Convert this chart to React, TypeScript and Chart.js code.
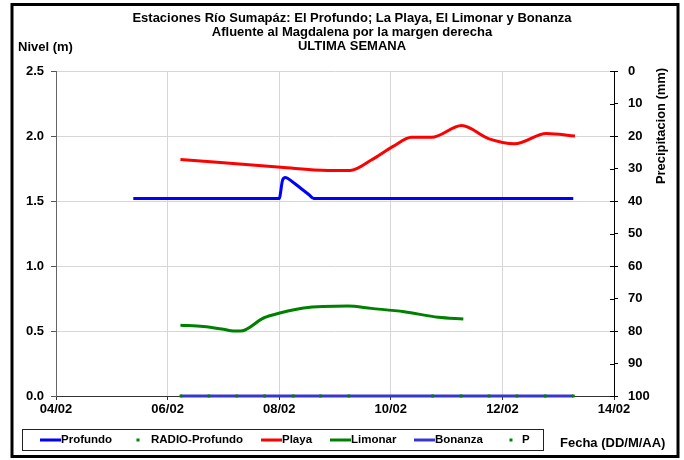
import React, { useEffect, useRef } from "react";
import { Chart, registerables } from "chart.js";

Chart.register(...registerables);

// ---- Data (days of February as decimal numbers) ----
const xTickDays = [4, 6, 8, 10, 12, 14];
const xTickLabels = ["04/02", "06/02", "08/02", "10/02", "12/02", "14/02"];

const titleLines = [
  "Estaciones Río Sumapáz: El Profundo; La Playa, El Limonar y Bonanza",
  "Afluente al Magdalena por la margen derecha",
  "ULTIMA SEMANA",
];

const profundoDays = [5.385, 8.0, 8.06, 8.11, 8.23, 8.38, 8.53, 8.62, 13.27];
const profundoLevel = [1.52, 1.52, 1.66, 1.68, 1.65, 1.6, 1.55, 1.52, 1.52];

const playaDays = [6.23, 6.83, 8.03, 8.87, 9.27, 9.65, 10.04, 10.37, 10.73, 11.27, 11.75, 12.22, 12.79, 13.3];
const playaLevel = [1.82, 1.8, 1.76, 1.735, 1.735, 1.815, 1.92, 1.99, 1.99, 2.08, 1.98, 1.94, 2.02, 2.0];

const limonarDays = [6.23, 6.64, 7.0, 7.18, 7.31, 7.72, 8.03, 8.44, 9.23, 9.65, 10.24, 10.85, 11.3];
const limonarLevel = [0.545, 0.535, 0.513, 0.5, 0.5, 0.6, 0.64, 0.677, 0.692, 0.674, 0.648, 0.605, 0.592];

const bonanzaDays = [6.23, 13.27];
const bonanzaLevel = [0, 0];

const radioDays = [6.24, 6.74, 7.24, 7.74, 8.25, 8.74, 9.25, 10.75, 11.26, 11.76, 12.26, 12.77, 13.27];
const radioValues = [0, 0, 0, 0, 0, 0, 0, 0, 0, 0, 0, 0, 0];

const pDays = [6.24, 6.74, 7.24, 7.74, 8.25, 8.74, 9.25, 10.75, 11.26, 11.76, 12.26, 12.77, 13.27];
const pValues = [0, 0, 0, 0, 0, 0, 0, 0, 0, 0, 0, 0, 0];

const FONT = "'Liberation Sans', Arial, sans-serif";

const pts = (xs: number[], ys: number[]) => xs.map((x, i) => ({ x, y: ys[i] }));

export default function App() {
  const ref = useRef<HTMLCanvasElement | null>(null);

  useEffect(() => {
    const canvas = ref.current;
    if (!canvas) return;

    const legendItems = [
      { marker: 0, text: 61 },
      { marker: 138, text: 151 },
      { marker: 261, text: 282 },
      { marker: 329, text: 351 },
      { marker: 413, text: 435 },
      { marker: 511, text: 522 },
    ];

    const decor = {
      id: "decor",
      beforeDraw(chart: any) {
        const ctx = chart.ctx;
        ctx.save();
        ctx.fillStyle = "#fff";
        ctx.fillRect(0, 0, chart.width, chart.height);
        ctx.restore();
      },
      afterDraw(chart: any) {
        const ctx = chart.ctx;
        ctx.save();
        // right axis inner tick halves
        const y2 = chart.scales.y2;
        ctx.strokeStyle = "#000";
        ctx.lineWidth = 1;
        for (let v = 0; v <= 100; v += 10) {
          const py = Math.round(y2.getPixelForValue(v)) + 0.5;
          ctx.beginPath();
          ctx.moveTo(y2.left - 4, py);
          ctx.lineTo(y2.left, py);
          ctx.stroke();
        }
        // frame
        ctx.strokeStyle = "#000";
        ctx.lineWidth = 3;
        ctx.strokeRect(12, 4.5, 666, 452);

        ctx.fillStyle = "#000";
        ctx.textBaseline = "middle";
        // titles
        ctx.font = `bold 13px ${FONT}`;
        ctx.textAlign = "center";
        const tw = [466, 296, 114];
        const ty = [18, 32, 46];
        titleLines.forEach((t, i) => ctx.fillText(t, 352, ty[i], tw[i]));
        // axis titles
        ctx.textAlign = "left";
        ctx.fillText("Nivel (m)", 18, 47);
        ctx.fillText("Fecha (DD/M/AA)", 560, 443, 113);
        ctx.save();
        ctx.translate(661, 126);
        ctx.rotate(-Math.PI / 2);
        ctx.textAlign = "center";
        ctx.fillText("Precipitacion (mm)", 0, 0, 116);
        ctx.restore();

        // legend box
        ctx.strokeStyle = "#222";
        ctx.lineWidth = 1;
        ctx.strokeRect(22.5, 429.5, 521, 21);
        ctx.font = `bold 11.5px ${FONT}`;
        const ly = 440;
        chart.data.datasets.forEach((ds: any, i: number) => {
          const it = legendItems[i];
          if (!it) return;
          if (ds.showLine === false) {
            ctx.fillStyle = ds.pointBackgroundColor;
            ctx.fillRect(it.marker - 1.5, ly - 1.5, 3, 3);
          } else {
            ctx.strokeStyle = ds.borderColor;
            ctx.lineWidth = 3;
            ctx.beginPath();
            ctx.moveTo(it.text - 21, ly);
            ctx.lineTo(it.text, ly);
            ctx.stroke();
          }
          ctx.fillStyle = "#000";
          ctx.textAlign = "left";
          ctx.fillText(ds.label, it.text, ly);
        });
        ctx.restore();
      },
    };

    const chart = new Chart(canvas, {
      type: "line",
      data: {
        datasets: [
          {
            label: "Profundo",
            data: pts(profundoDays, profundoLevel),
            borderColor: "#0000FF",
            borderWidth: 3,
            pointRadius: 0,
            cubicInterpolationMode: "monotone",
            yAxisID: "y",
            order: 2,
          },
          {
            label: "RADIO-Profundo",
            data: pts(radioDays, radioValues),
            showLine: false,
            pointStyle: "rect",
            pointRadius: 1.8,
            pointBackgroundColor: "#008000",
            pointBorderWidth: 0,
            borderColor: "#008000",
            yAxisID: "y",
            clip: false,
            order: 0,
          },
          {
            label: "Playa",
            data: pts(playaDays, playaLevel),
            borderColor: "#FF0000",
            borderWidth: 3,
            pointRadius: 0,
            cubicInterpolationMode: "monotone",
            yAxisID: "y",
            order: 3,
          },
          {
            label: "Limonar",
            data: pts(limonarDays, limonarLevel),
            borderColor: "#008000",
            borderWidth: 3,
            pointRadius: 0,
            cubicInterpolationMode: "monotone",
            yAxisID: "y",
            order: 3,
          },
          {
            label: "Bonanza",
            data: pts(bonanzaDays, bonanzaLevel),
            borderColor: "#3737CF",
            borderWidth: 3,
            pointRadius: 0,
            yAxisID: "y",
            clip: false,
            order: 1,
          },
          {
            label: "P",
            data: pts(pDays, pValues),
            showLine: false,
            pointStyle: "rect",
            pointRadius: 1.8,
            pointBackgroundColor: "#008000",
            pointBorderWidth: 0,
            borderColor: "#008000",
            yAxisID: "y",
            clip: false,
            order: 0,
          },
        ],
      } as any,
      options: {
        responsive: false,
        animation: false,
        layout: { padding: { top: 71, left: 0, right: 0, bottom: 0 } },
        plugins: {
          legend: { display: false },
          title: { display: false },
          tooltip: { enabled: false },
        },
        scales: {
          x: {
            type: "linear",
            min: 4,
            max: 14,
            afterBuildTicks: (s: any) => {
              s.ticks = xTickDays.map((v) => ({ value: v }));
            },
            ticks: {
              callback: (v: any) => {
                const i = xTickDays.indexOf(Number(v));
                return i >= 0 ? xTickLabels[i] : "";
              },
              color: "#000",
              font: { family: FONT, size: 13, weight: "bold" },
              padding: 2,
              maxRotation: 0,
              autoSkip: false,
            },
            grid: { color: "#d6d6d6", tickColor: "#333", tickLength: 4, lineWidth: 1 },
            border: { color: "#333", width: 1 },
            afterFit: (s: any) => {
              s.height = 64;
            },
          },
          y: {
            position: "left",
            min: 0,
            max: 2.5,
            ticks: {
              stepSize: 0.5,
              callback: (v: any) => Number(v).toFixed(1),
              color: "#000",
              font: { family: FONT, size: 13, weight: "bold" },
              padding: 7,
            },
            grid: { color: "#d6d6d6", tickColor: "#555", tickLength: 5, lineWidth: 1 },
            border: { color: "#666", width: 1 },
            afterFit: (s: any) => {
              s.width = 56;
            },
          },
          y2: {
            position: "right",
            min: 0,
            max: 100,
            reverse: true,
            ticks: {
              stepSize: 10,
              color: "#000",
              font: { family: FONT, size: 13, weight: "bold" },
              padding: 10,
            },
            grid: { drawOnChartArea: false, tickColor: "#000", tickLength: 4 },
            border: { color: "#000", width: 1 },
            afterFit: (s: any) => {
              s.width = 70;
            },
          },
        },
      } as any,
      plugins: [decor],
    });

    return () => chart.destroy();
  }, []);

  return (
    <div style={{ position: "absolute", left: 0, top: 0, width: 684, height: 460 }}>
      <canvas ref={ref} width={684} height={460} style={{ display: "block", width: 684, height: 460 }} />
    </div>
  );
}
